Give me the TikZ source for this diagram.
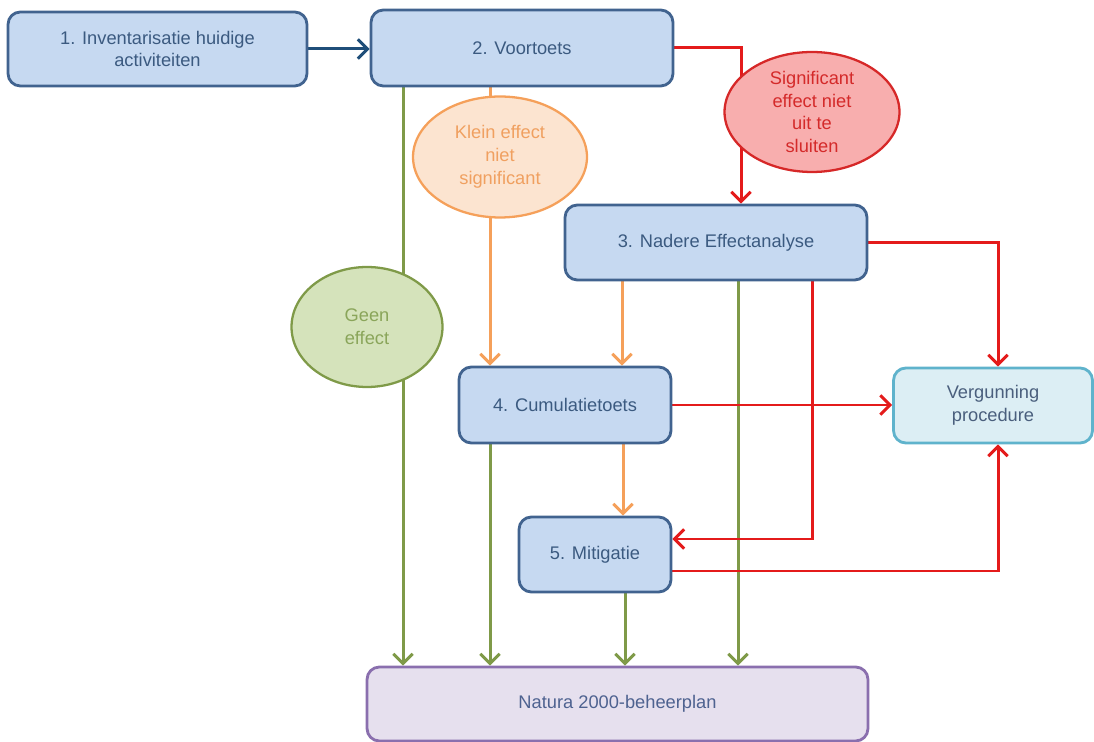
\documentclass[tikz,border=0pt]{standalone}
\usepackage{fontspec}
\setmainfont{Liberation Sans}
\usetikzlibrary{arrows.meta,shapes.geometric}
\pgfdeclarelayer{background}
\pgfsetlayers{background,main}
\definecolor{bfill}{HTML}{C6D9F1}
\definecolor{bdraw}{HTML}{41638F}
\definecolor{btext}{HTML}{3B5A80}
\definecolor{navy}{HTML}{1F4E79}
\definecolor{rline}{HTML}{E41B1B}
\definecolor{oline}{HTML}{F5A05A}
\definecolor{ofill}{HTML}{FCE4D0}
\definecolor{otext}{HTML}{F0A060}
\definecolor{gline}{HTML}{7F9A48}
\definecolor{gfill}{HTML}{D5E3BB}
\definecolor{gtext}{HTML}{8AA55A}
\definecolor{rfill}{HTML}{F8AEAE}
\definecolor{rdraw}{HTML}{D62828}
\definecolor{rtext}{HTML}{D42A2A}
\definecolor{vfill}{HTML}{DCEEF4}
\definecolor{vdraw}{HTML}{5FB3CC}
\definecolor{vtext}{HTML}{4A5F7D}
\definecolor{nfill}{HTML}{E6E0EE}
\definecolor{ndraw}{HTML}{8A6FAE}
\definecolor{ntext}{HTML}{4E6290}
\tikzset{
  txt/.style={font=\fontsize{10.4}{13}\selectfont, align=center, inner sep=0pt},
  box/.style={txt, rectangle, rounded corners=7pt, line width=1.6pt, draw=bdraw, fill=bfill, text=btext},
  oval/.style={txt, ellipse, line width=1.3pt},
  conn/.style={line width=1.7pt, -{Straight Barb[length=5.5pt,width=11pt]}},
}
\begin{document}
\begin{tikzpicture}[x=0.02cm, y=-0.02cm]
\useasboundingbox (0,0) rectangle (1094,742);
% boxes
\node[box, minimum width=5.98cm, minimum height=1.48cm] (b1) at (157.5,49) {1. Inventarisatie huidige\\activiteiten};
\node[box, minimum width=6.04cm, minimum height=1.52cm] (b2) at (522,48) {2. Voortoets};
\node[box, minimum width=6.04cm, minimum height=1.50cm] (b3) at (716,242.5) {3. Nadere Effectanalyse};
\node[box, minimum width=4.24cm, minimum height=1.52cm] (b4) at (565,405) {4. Cumulatietoets};
\node[box, minimum width=3.04cm, minimum height=1.50cm] (b5) at (595,554.5) {5. Mitigatie};
\node[box, draw=vdraw, fill=vfill, text=vtext, minimum width=3.98cm, minimum height=1.50cm] (vg) at (993,405.5) {Vergunning\\procedure};
\node[box, draw=ndraw, fill=nfill, text=ntext, minimum width=10.02cm, minimum height=1.48cm] (nat) at (617.5,704) {Natura 2000-beheerplan};
% ellipses
\node[oval, draw=rdraw, fill=rfill, text=rtext, minimum width=3.5cm, minimum height=2.4cm] (sig) at (812,112) {Significant\\effect niet\\uit te\\sluiten};
\node[oval, draw=oline, fill=ofill, text=otext, minimum width=3.48cm, minimum height=2.42cm] (kl) at (500,157) {Klein effect\\niet\\significant};
\node[oval, draw=gline, fill=gfill, text=gtext, minimum width=3.02cm, minimum height=2.4cm] (ge) at (367,327) {Geen\\effect};
% connectors
\begin{pgfonlayer}{background}
\draw[conn, navy] (b1.east) -- (b1.east -| b2.west);
% green
\draw[conn, gline] (b2.south -| 403,0) -- (ge.center -| 403,0) -- (nat.north -| 403,0);
\draw[conn, gline] (b4.south -| 490,0) -- (nat.north -| 490,0);
\draw[conn, gline] (b5.south -| 625,0) -- (nat.north -| 625,0);
\draw[conn, gline] (b3.south -| 738,0) -- (nat.north -| 738,0);
% orange
\draw[conn, oline] (b2.south -| 490,0) -- (kl.center -| 490,0) -- (b4.north -| 490,0);
\draw[conn, oline] (b3.south -| 622,0) -- (b4.north -| 622,0);
\draw[conn, oline] (b4.south -| 623,0) -- (b5.north -| 623,0);
% red
\draw[conn, rline] (b2.east) -- (741,48) -- (sig.center -| 741,0) -- (b3.north -| 741,0);
\draw[conn, rline] (b3.east) -- (998,242.5) -- (vg.north -| 998,0);
\draw[conn, rline] (b4.east) -- (b4.east -| vg.west);
\draw[conn, rline] (b3.south -| 812,0) -- (812,539) -- (b5.east |- 0,539);
\draw[conn, rline] (b5.east |- 0,571) -- (998,571) -- (vg.south -| 998,0);
\end{pgfonlayer}
\end{tikzpicture}
\end{document}
